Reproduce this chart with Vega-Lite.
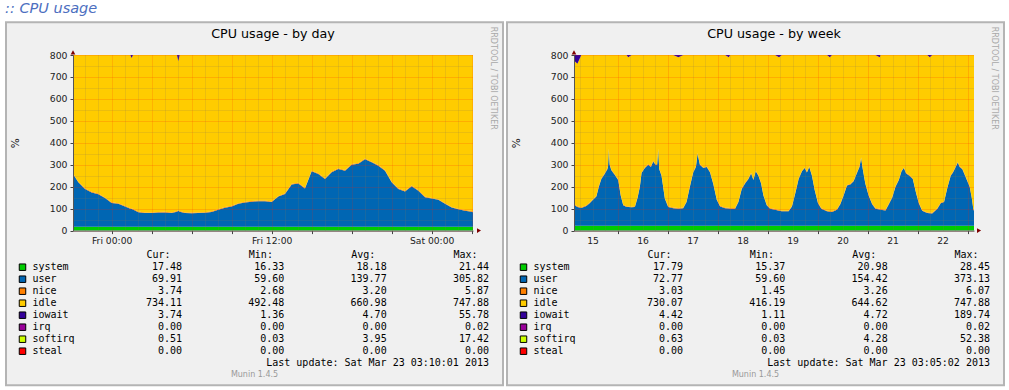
{
  "$schema": "https://vega.github.io/schema/vega-lite/v6.json",
  "background": "#ffffff",
  "padding": {"left": 4, "top": 0, "right": 0, "bottom": 0},
  "autosize": {"type": "pad"},
  "title": {"text": ":: CPU usage", "anchor": "start", "font": "DejaVu Sans", "fontSize": 14.5, "fontStyle": "italic", "fontWeight": "normal", "color": "#4d6fbf", "offset": 5},
  "datasets": {
    "day": [
      {"hour":165.1,"system":18,"user":240,"nice":3,"idle":539,"iowait":0},
      {"hour":165.5,"system":18,"user":202,"nice":3,"idle":577,"iowait":0},
      {"hour":166,"system":18,"user":172,"nice":3,"idle":607,"iowait":0},
      {"hour":166.5,"system":18,"user":156,"nice":3,"idle":623,"iowait":0},
      {"hour":167,"system":18,"user":148,"nice":3,"idle":631,"iowait":0},
      {"hour":167.5,"system":18,"user":130,"nice":3,"idle":649,"iowait":0},
      {"hour":168,"system":18,"user":108,"nice":3,"idle":671,"iowait":0},
      {"hour":168.5,"system":18,"user":104,"nice":3,"idle":675,"iowait":0},
      {"hour":169,"system":18,"user":92,"nice":3,"idle":687,"iowait":0},
      {"hour":169.4,"system":18,"user":82,"nice":3,"idle":697,"iowait":0},
      {"hour":169.5,"system":18,"user":80,"nice":3,"idle":685,"iowait":14},
      {"hour":169.6,"system":18,"user":78,"nice":3,"idle":701,"iowait":0},
      {"hour":170,"system":18,"user":66,"nice":3,"idle":713,"iowait":0},
      {"hour":170.5,"system":18,"user":62,"nice":3,"idle":717,"iowait":0},
      {"hour":171,"system":18,"user":62,"nice":3,"idle":717,"iowait":0},
      {"hour":171.5,"system":18,"user":64,"nice":3,"idle":715,"iowait":0},
      {"hour":172,"system":18,"user":65,"nice":3,"idle":714,"iowait":0},
      {"hour":172.5,"system":18,"user":62,"nice":3,"idle":717,"iowait":0},
      {"hour":172.9,"system":18,"user":68,"nice":3,"idle":711,"iowait":0},
      {"hour":173,"system":18,"user":72,"nice":3,"idle":679,"iowait":28},
      {"hour":173.1,"system":18,"user":68,"nice":3,"idle":711,"iowait":0},
      {"hour":173.5,"system":18,"user":62,"nice":3,"idle":717,"iowait":0},
      {"hour":174,"system":18,"user":61,"nice":3,"idle":718,"iowait":0},
      {"hour":174.5,"system":18,"user":62,"nice":3,"idle":717,"iowait":0},
      {"hour":175,"system":18,"user":63,"nice":3,"idle":716,"iowait":0},
      {"hour":175.5,"system":18,"user":67,"nice":3,"idle":712,"iowait":0},
      {"hour":176,"system":18,"user":77,"nice":3,"idle":702,"iowait":0},
      {"hour":176.5,"system":18,"user":86,"nice":3,"idle":693,"iowait":0},
      {"hour":177,"system":18,"user":92,"nice":3,"idle":687,"iowait":0},
      {"hour":177.5,"system":18,"user":104,"nice":3,"idle":675,"iowait":0},
      {"hour":178,"system":18,"user":110,"nice":3,"idle":669,"iowait":0},
      {"hour":178.5,"system":18,"user":114,"nice":3,"idle":665,"iowait":0},
      {"hour":179,"system":18,"user":116,"nice":3,"idle":663,"iowait":0},
      {"hour":179.5,"system":18,"user":116,"nice":3,"idle":663,"iowait":0},
      {"hour":180,"system":18,"user":112,"nice":3,"idle":667,"iowait":0},
      {"hour":180.5,"system":18,"user":137,"nice":3,"idle":642,"iowait":0},
      {"hour":181,"system":18,"user":149,"nice":3,"idle":630,"iowait":0},
      {"hour":181.5,"system":18,"user":192,"nice":3,"idle":587,"iowait":0},
      {"hour":182,"system":18,"user":197,"nice":3,"idle":582,"iowait":0},
      {"hour":182.5,"system":18,"user":174,"nice":3,"idle":605,"iowait":0},
      {"hour":183,"system":18,"user":252,"nice":3,"idle":527,"iowait":0},
      {"hour":183.5,"system":18,"user":240,"nice":3,"idle":539,"iowait":0},
      {"hour":184,"system":18,"user":217,"nice":3,"idle":562,"iowait":0},
      {"hour":184.5,"system":18,"user":248,"nice":3,"idle":531,"iowait":0},
      {"hour":185,"system":18,"user":263,"nice":3,"idle":516,"iowait":0},
      {"hour":185.5,"system":18,"user":255,"nice":3,"idle":524,"iowait":0},
      {"hour":186,"system":18,"user":282,"nice":3,"idle":497,"iowait":0},
      {"hour":186.5,"system":18,"user":287,"nice":3,"idle":492,"iowait":0},
      {"hour":187,"system":18,"user":307,"nice":3,"idle":472,"iowait":0},
      {"hour":187.5,"system":18,"user":293,"nice":3,"idle":486,"iowait":0},
      {"hour":188,"system":18,"user":278,"nice":3,"idle":501,"iowait":0},
      {"hour":188.5,"system":18,"user":255,"nice":3,"idle":524,"iowait":0},
      {"hour":189,"system":18,"user":202,"nice":3,"idle":577,"iowait":0},
      {"hour":189.5,"system":18,"user":172,"nice":3,"idle":607,"iowait":0},
      {"hour":190,"system":18,"user":160,"nice":3,"idle":619,"iowait":0},
      {"hour":190.5,"system":18,"user":184,"nice":3,"idle":595,"iowait":0},
      {"hour":191,"system":18,"user":164,"nice":3,"idle":615,"iowait":0},
      {"hour":191.5,"system":18,"user":134,"nice":3,"idle":645,"iowait":0},
      {"hour":192,"system":18,"user":128,"nice":3,"idle":651,"iowait":0},
      {"hour":192.5,"system":18,"user":122,"nice":3,"idle":657,"iowait":0},
      {"hour":193,"system":18,"user":104,"nice":3,"idle":675,"iowait":0},
      {"hour":193.5,"system":18,"user":87,"nice":3,"idle":692,"iowait":0},
      {"hour":194,"system":18,"user":79,"nice":3,"idle":700,"iowait":0},
      {"hour":194.5,"system":18,"user":73,"nice":3,"idle":706,"iowait":0},
      {"hour":195,"system":18,"user":68,"nice":3,"idle":711,"iowait":0},
      {"hour":195.1,"system":18,"user":66,"nice":3,"idle":713,"iowait":0}
    ],
    "week": [
      {"hour":3.08,"system":22,"user":96,"nice":3,"idle":654,"iowait":25},
      {"hour":4.7,"system":22,"user":86,"nice":3,"idle":649,"iowait":40},
      {"hour":6.6,"system":22,"user":81,"nice":3,"idle":694,"iowait":0},
      {"hour":9.0,"system":22,"user":90,"nice":3,"idle":685,"iowait":0},
      {"hour":10.6,"system":22,"user":103,"nice":3,"idle":672,"iowait":0},
      {"hour":12.2,"system":22,"user":118,"nice":3,"idle":657,"iowait":0},
      {"hour":13.8,"system":22,"user":133,"nice":3,"idle":642,"iowait":0},
      {"hour":15.0,"system":22,"user":178,"nice":3,"idle":597,"iowait":0},
      {"hour":16.2,"system":22,"user":213,"nice":3,"idle":562,"iowait":0},
      {"hour":17.8,"system":22,"user":236,"nice":3,"idle":539,"iowait":0},
      {"hour":19.1,"system":22,"user":258,"nice":3,"idle":517,"iowait":0},
      {"hour":19.4,"system":22,"user":268,"nice":3,"idle":507,"iowait":0},
      {"hour":19.8,"system":22,"user":348,"nice":3,"idle":427,"iowait":0},
      {"hour":20.2,"system":22,"user":278,"nice":3,"idle":497,"iowait":0},
      {"hour":21.0,"system":22,"user":253,"nice":3,"idle":522,"iowait":0},
      {"hour":22.6,"system":22,"user":233,"nice":3,"idle":542,"iowait":0},
      {"hour":24.3,"system":22,"user":208,"nice":3,"idle":567,"iowait":0},
      {"hour":25.5,"system":22,"user":138,"nice":3,"idle":637,"iowait":0},
      {"hour":26.7,"system":22,"user":93,"nice":3,"idle":682,"iowait":0},
      {"hour":28.3,"system":22,"user":86,"nice":3,"idle":689,"iowait":0},
      {"hour":29.1,"system":22,"user":85,"nice":3,"idle":680,"iowait":10},
      {"hour":30.7,"system":22,"user":84,"nice":3,"idle":691,"iowait":0},
      {"hour":32.3,"system":22,"user":86,"nice":3,"idle":689,"iowait":0},
      {"hour":33.6,"system":22,"user":128,"nice":3,"idle":647,"iowait":0},
      {"hour":34.7,"system":22,"user":178,"nice":3,"idle":597,"iowait":0},
      {"hour":35.5,"system":22,"user":240,"nice":3,"idle":535,"iowait":0},
      {"hour":37.1,"system":22,"user":263,"nice":3,"idle":512,"iowait":0},
      {"hour":38.7,"system":22,"user":278,"nice":3,"idle":497,"iowait":0},
      {"hour":40.0,"system":22,"user":268,"nice":3,"idle":507,"iowait":0},
      {"hour":41.1,"system":22,"user":293,"nice":3,"idle":482,"iowait":0},
      {"hour":42.2,"system":22,"user":278,"nice":3,"idle":497,"iowait":0},
      {"hour":43.0,"system":22,"user":278,"nice":3,"idle":497,"iowait":0},
      {"hour":43.5,"system":22,"user":348,"nice":3,"idle":427,"iowait":0},
      {"hour":44.0,"system":22,"user":258,"nice":3,"idle":517,"iowait":0},
      {"hour":45.1,"system":22,"user":228,"nice":3,"idle":547,"iowait":0},
      {"hour":46.7,"system":22,"user":123,"nice":3,"idle":652,"iowait":0},
      {"hour":48.3,"system":22,"user":86,"nice":3,"idle":689,"iowait":0},
      {"hour":50.7,"system":22,"user":80,"nice":3,"idle":695,"iowait":0},
      {"hour":53.2,"system":22,"user":78,"nice":3,"idle":687,"iowait":10},
      {"hour":55.5,"system":22,"user":80,"nice":3,"idle":695,"iowait":0},
      {"hour":57.1,"system":22,"user":108,"nice":3,"idle":667,"iowait":0},
      {"hour":58.7,"system":22,"user":178,"nice":3,"idle":597,"iowait":0},
      {"hour":60.3,"system":22,"user":243,"nice":3,"idle":532,"iowait":0},
      {"hour":61.6,"system":22,"user":268,"nice":3,"idle":507,"iowait":0},
      {"hour":62.4,"system":22,"user":328,"nice":3,"idle":447,"iowait":0},
      {"hour":63.5,"system":22,"user":278,"nice":3,"idle":497,"iowait":0},
      {"hour":65.2,"system":22,"user":263,"nice":3,"idle":512,"iowait":0},
      {"hour":66.8,"system":22,"user":268,"nice":3,"idle":507,"iowait":0},
      {"hour":68.4,"system":22,"user":243,"nice":3,"idle":532,"iowait":0},
      {"hour":70.0,"system":22,"user":188,"nice":3,"idle":587,"iowait":0},
      {"hour":71.6,"system":22,"user":118,"nice":3,"idle":657,"iowait":0},
      {"hour":73.2,"system":22,"user":88,"nice":3,"idle":687,"iowait":0},
      {"hour":75.6,"system":22,"user":80,"nice":3,"idle":695,"iowait":0},
      {"hour":77.4,"system":22,"user":79,"nice":3,"idle":686,"iowait":10},
      {"hour":78.0,"system":22,"user":78,"nice":3,"idle":697,"iowait":0},
      {"hour":80.4,"system":22,"user":78,"nice":3,"idle":697,"iowait":0},
      {"hour":82.0,"system":22,"user":108,"nice":3,"idle":667,"iowait":0},
      {"hour":83.6,"system":22,"user":168,"nice":3,"idle":607,"iowait":0},
      {"hour":85.2,"system":22,"user":193,"nice":3,"idle":582,"iowait":0},
      {"hour":86.8,"system":22,"user":213,"nice":3,"idle":562,"iowait":0},
      {"hour":88.1,"system":22,"user":238,"nice":3,"idle":537,"iowait":0},
      {"hour":89.2,"system":22,"user":208,"nice":3,"idle":567,"iowait":0},
      {"hour":90.3,"system":22,"user":248,"nice":3,"idle":527,"iowait":0},
      {"hour":91.6,"system":22,"user":228,"nice":3,"idle":547,"iowait":0},
      {"hour":92.9,"system":22,"user":193,"nice":3,"idle":582,"iowait":0},
      {"hour":94.0,"system":22,"user":138,"nice":3,"idle":637,"iowait":0},
      {"hour":95.6,"system":22,"user":93,"nice":3,"idle":682,"iowait":0},
      {"hour":97.2,"system":22,"user":78,"nice":3,"idle":697,"iowait":0},
      {"hour":99.6,"system":22,"user":73,"nice":3,"idle":702,"iowait":0},
      {"hour":101.5,"system":22,"user":69,"nice":3,"idle":696,"iowait":10},
      {"hour":102.8,"system":22,"user":66,"nice":3,"idle":709,"iowait":0},
      {"hour":106.1,"system":22,"user":66,"nice":3,"idle":709,"iowait":0},
      {"hour":107.7,"system":22,"user":88,"nice":3,"idle":687,"iowait":0},
      {"hour":109.3,"system":22,"user":148,"nice":3,"idle":627,"iowait":0},
      {"hour":110.9,"system":22,"user":213,"nice":3,"idle":562,"iowait":0},
      {"hour":112.5,"system":22,"user":248,"nice":3,"idle":527,"iowait":0},
      {"hour":113.8,"system":22,"user":263,"nice":3,"idle":512,"iowait":0},
      {"hour":114.9,"system":22,"user":243,"nice":3,"idle":532,"iowait":0},
      {"hour":116.0,"system":22,"user":268,"nice":3,"idle":507,"iowait":0},
      {"hour":117.3,"system":22,"user":228,"nice":3,"idle":547,"iowait":0},
      {"hour":118.6,"system":22,"user":163,"nice":3,"idle":612,"iowait":0},
      {"hour":120.2,"system":22,"user":103,"nice":3,"idle":672,"iowait":0},
      {"hour":121.8,"system":22,"user":78,"nice":3,"idle":697,"iowait":0},
      {"hour":124.5,"system":22,"user":66,"nice":3,"idle":709,"iowait":0},
      {"hour":125.9,"system":22,"user":64,"nice":3,"idle":701,"iowait":10},
      {"hour":126.9,"system":22,"user":63,"nice":3,"idle":712,"iowait":0},
      {"hour":129.3,"system":22,"user":73,"nice":3,"idle":702,"iowait":0},
      {"hour":130.9,"system":22,"user":98,"nice":3,"idle":677,"iowait":0},
      {"hour":132.5,"system":22,"user":138,"nice":3,"idle":637,"iowait":0},
      {"hour":134.1,"system":22,"user":183,"nice":3,"idle":592,"iowait":0},
      {"hour":135.7,"system":22,"user":188,"nice":3,"idle":587,"iowait":0},
      {"hour":137.3,"system":22,"user":203,"nice":3,"idle":572,"iowait":0},
      {"hour":139.0,"system":22,"user":243,"nice":3,"idle":532,"iowait":0},
      {"hour":140.1,"system":22,"user":268,"nice":3,"idle":507,"iowait":0},
      {"hour":140.9,"system":22,"user":308,"nice":3,"idle":467,"iowait":0},
      {"hour":141.7,"system":22,"user":258,"nice":3,"idle":517,"iowait":0},
      {"hour":142.9,"system":22,"user":193,"nice":3,"idle":582,"iowait":0},
      {"hour":144.5,"system":22,"user":138,"nice":3,"idle":637,"iowait":0},
      {"hour":146.2,"system":22,"user":98,"nice":3,"idle":677,"iowait":0},
      {"hour":147.8,"system":22,"user":78,"nice":3,"idle":697,"iowait":0},
      {"hour":149.8,"system":22,"user":74,"nice":3,"idle":691,"iowait":10},
      {"hour":150.2,"system":22,"user":73,"nice":3,"idle":702,"iowait":0},
      {"hour":152.6,"system":22,"user":70,"nice":3,"idle":705,"iowait":0},
      {"hour":154.2,"system":22,"user":98,"nice":3,"idle":677,"iowait":0},
      {"hour":155.8,"system":22,"user":128,"nice":3,"idle":647,"iowait":0},
      {"hour":157.4,"system":22,"user":178,"nice":3,"idle":597,"iowait":0},
      {"hour":159.0,"system":22,"user":208,"nice":3,"idle":567,"iowait":0},
      {"hour":160.3,"system":22,"user":248,"nice":3,"idle":527,"iowait":0},
      {"hour":161.4,"system":22,"user":263,"nice":3,"idle":512,"iowait":0},
      {"hour":162.5,"system":22,"user":238,"nice":3,"idle":537,"iowait":0},
      {"hour":164.1,"system":22,"user":228,"nice":3,"idle":547,"iowait":0},
      {"hour":165.7,"system":22,"user":213,"nice":3,"idle":562,"iowait":0},
      {"hour":167.3,"system":22,"user":148,"nice":3,"idle":627,"iowait":0},
      {"hour":168.6,"system":22,"user":103,"nice":3,"idle":672,"iowait":0},
      {"hour":170.2,"system":22,"user":68,"nice":3,"idle":707,"iowait":0},
      {"hour":172.6,"system":22,"user":58,"nice":3,"idle":717,"iowait":0},
      {"hour":173.9,"system":22,"user":57,"nice":3,"idle":708,"iowait":10},
      {"hour":175.0,"system":22,"user":56,"nice":3,"idle":719,"iowait":0},
      {"hour":177.5,"system":22,"user":78,"nice":3,"idle":697,"iowait":0},
      {"hour":179.1,"system":22,"user":103,"nice":3,"idle":672,"iowait":0},
      {"hour":180.7,"system":22,"user":108,"nice":3,"idle":667,"iowait":0},
      {"hour":182.3,"system":22,"user":173,"nice":3,"idle":602,"iowait":0},
      {"hour":183.9,"system":22,"user":228,"nice":3,"idle":547,"iowait":0},
      {"hour":185.0,"system":22,"user":243,"nice":3,"idle":532,"iowait":0},
      {"hour":186.3,"system":22,"user":268,"nice":3,"idle":507,"iowait":0},
      {"hour":187.3,"system":22,"user":288,"nice":3,"idle":487,"iowait":0},
      {"hour":188.2,"system":22,"user":268,"nice":3,"idle":507,"iowait":0},
      {"hour":189.5,"system":22,"user":258,"nice":3,"idle":517,"iowait":0},
      {"hour":190.8,"system":22,"user":228,"nice":3,"idle":547,"iowait":0},
      {"hour":191.9,"system":22,"user":203,"nice":3,"idle":572,"iowait":0},
      {"hour":193.0,"system":22,"user":178,"nice":3,"idle":597,"iowait":0},
      {"hour":194.0,"system":22,"user":128,"nice":3,"idle":647,"iowait":0},
      {"hour":194.8,"system":22,"user":73,"nice":3,"idle":702,"iowait":0},
      {"hour":195.08,"system":22,"user":68,"nice":3,"idle":707,"iowait":0}
    ],
    "legendDay": [
      {"series":"system","row":1,"Cur":17.48,"Min":16.33,"Avg":18.18,"Max":21.44},
      {"series":"user","row":2,"Cur":69.91,"Min":59.60,"Avg":139.77,"Max":305.82},
      {"series":"nice","row":3,"Cur":3.74,"Min":2.68,"Avg":3.20,"Max":5.87},
      {"series":"idle","row":4,"Cur":734.11,"Min":492.48,"Avg":660.98,"Max":747.88},
      {"series":"iowait","row":5,"Cur":3.74,"Min":1.36,"Avg":4.70,"Max":55.78},
      {"series":"irq","row":6,"Cur":0,"Min":0,"Avg":0,"Max":0.02},
      {"series":"softirq","row":7,"Cur":0.51,"Min":0.03,"Avg":3.95,"Max":17.42},
      {"series":"steal","row":8,"Cur":0,"Min":0,"Avg":0,"Max":0}
    ],
    "legendWeek": [
      {"series":"system","row":1,"Cur":17.79,"Min":15.37,"Avg":20.98,"Max":28.45},
      {"series":"user","row":2,"Cur":72.77,"Min":59.60,"Avg":154.42,"Max":373.13},
      {"series":"nice","row":3,"Cur":3.03,"Min":1.45,"Avg":3.26,"Max":6.07},
      {"series":"idle","row":4,"Cur":730.07,"Min":416.19,"Avg":644.62,"Max":747.88},
      {"series":"iowait","row":5,"Cur":4.42,"Min":1.11,"Avg":4.72,"Max":189.74},
      {"series":"irq","row":6,"Cur":0,"Min":0,"Avg":0,"Max":0.02},
      {"series":"softirq","row":7,"Cur":0.63,"Min":0.03,"Avg":4.28,"Max":52.38},
      {"series":"steal","row":8,"Cur":0,"Min":0,"Avg":0,"Max":0}
    ],
    "heads": [
      {"stat":"Cur","label":"Cur:"},
      {"stat":"Min","label":"Min:"},
      {"stat":"Avg","label":"Avg:"},
      {"stat":"Max","label":"Max:"}
    ]
  },
  "hconcat": [
    {
      "vconcat": [
        {
          "width": 400,
          "height": 175.6,
          "title": {"text": "CPU usage - by day", "frame": "group", "anchor": "middle", "offset": -19, "font": "DejaVu Sans", "fontSize": 12.7, "fontWeight": "normal", "color": "#000000"},
          "layer": [
            {
              "data": {"values": [{"label": "panel"}]},
              "mark": {"type": "rect", "fill": "#f0f0f0", "stroke": "#b4b4b4", "strokeWidth": 2},
              "encoding": {
                "x": {"datum": 160.075, "type": "quantitative", "scale": {"domain": [165.1, 195.1], "nice": false, "zero": false}, "axis": null},
                "x2": {"datum": 197.35},
                "y": {"datum": -704.8, "type": "quantitative", "scale": {"domain": [0, 800], "nice": false}, "axis": null},
                "y2": {"datum": 948.97}
              }
            },
            {
              "data": {"name": "day"},
              "transform": [
                {"fold": ["system", "user", "nice", "idle", "iowait"], "as": ["series", "value"]},
                {"lookup": "series", "from": {"data": {"name": "legendDay"}, "key": "series", "fields": ["row"]}}
              ],
              "mark": {"type": "area", "interpolate": "linear"},
              "encoding": {
                "x": {"field": "hour", "type": "quantitative",
                  "scale": {"domain": [165.1, 195.1], "nice": false, "zero": false},
                  "axis": {
                    "values": [166,167,168,169,170,171,172,173,174,175,176,177,178,179,180,181,182,183,184,185,186,187,188,189,190,191,192,193,194,195],
                    "labelExpr": "datum.value === 168 ? 'Fri 00:00' : datum.value === 180 ? 'Fri 12:00' : datum.value === 192 ? 'Sat 00:00' : ''",
                    "labelFont": "DejaVu Sans", "labelFontSize": 9.2, "labelColor": "#222222", "labelPadding": 2.5,
                    "labelOverlap": false, "labelFlush": false,
                    "tickSize": 3, "tickColor": "#444444",
                    "tickOpacity": {"condition": {"test": "datum.value % 3 === 0", "value": 1}, "value": 0},
                    "domainColor": "#555555",
                    "grid": true,
                    "gridColor": {"condition": {"test": "datum.value % 3 === 0", "value": "#ff2000"}, "value": "#8c7a50"},
                    "gridOpacity": {"condition": {"test": "datum.value % 3 === 0", "value": 0.3}, "value": 0.35},
                    "gridDash": [1, 1],
                    "title": null,
                    "zindex": 1
                  }
                },
                "y": {"field": "value", "type": "quantitative", "stack": "zero",
                  "scale": {"domain": [0, 800], "nice": false},
                  "axis": {
                    "values": [0,50,100,150,200,250,300,350,400,450,500,550,600,650,700,750,800],
                    "labelExpr": "datum.value % 100 === 0 ? datum.label : ''",
                    "labelFont": "DejaVu Sans", "labelFontSize": 9.3, "labelColor": "#222222", "labelPadding": 3,
                    "labelOverlap": false, "labelFlush": false,
                    "tickSize": 3, "tickColor": "#444444",
                    "tickOpacity": {"condition": {"test": "datum.value % 100 === 0", "value": 1}, "value": 0},
                    "domainColor": "#555555",
                    "grid": true,
                    "gridColor": {"condition": {"test": "datum.value % 100 === 0", "value": "#ff2000"}, "value": "#8c7a50"},
                    "gridOpacity": {"condition": {"test": "datum.value % 100 === 0", "value": 0.35}, "value": 0.35},
                    "gridDash": [1, 1],
                    "title": "%", "titleFont": "DejaVu Sans", "titleFontSize": 10.5, "titleFontWeight": "normal", "titleColor": "#222222",
                    "titleAngle": 270, "titleX": -58, "titleBaseline": "middle", "titleAlign": "center",
                    "zindex": 1
                  }
                },
                "color": {"field": "series", "type": "nominal", "legend": null,
                  "scale": {"domain": ["system","user","nice","idle","iowait","irq","softirq","steal"], "range": ["#00cc00","#0066b3","#ff8000","#ffcc00","#330099","#990099","#ccff00","#ff0000"]}},
                "order": {"field": "row", "type": "quantitative", "sort": "ascending"}
              }
            },
            {
              "data": {"values": [{"label": "RRDTOOL / TOBI OETIKER"}]},
              "mark": {"type": "text", "angle": 90, "font": "DejaVu Sans", "fontSize": 8, "color": "#a8a8a8", "align": "center", "baseline": "middle"},
              "encoding": {
                "x": {"datum": 196.6, "type": "quantitative", "scale": {"domain": [165.1, 195.1], "nice": false, "zero": false}, "axis": null},
                "y": {"datum": 694, "type": "quantitative", "scale": {"domain": [0, 800], "nice": false}, "axis": null},
                "text": {"field": "label", "type": "nominal"}
              }
            },
            {
              "data": {"values": [{"label": "y"}]},
              "mark": {"type": "point", "shape": "triangle-up", "filled": true, "color": "#7f0000", "size": 22, "opacity": 1},
              "encoding": {
                "x": {"datum": 165.1, "type": "quantitative", "scale": {"domain": [165.1, 195.1], "nice": false, "zero": false}, "axis": null},
                "y": {"datum": 812, "type": "quantitative", "scale": {"domain": [0, 800], "nice": false}, "axis": null}
              }
            },
            {
              "data": {"values": [{"label": "x"}]},
              "mark": {"type": "point", "shape": "triangle-right", "filled": true, "color": "#7f0000", "size": 22, "opacity": 1},
              "encoding": {
                "x": {"datum": 195.55, "type": "quantitative", "scale": {"domain": [165.1, 195.1], "nice": false, "zero": false}, "axis": null},
                "y": {"datum": 0, "type": "quantitative", "scale": {"domain": [0, 800], "nice": false}, "axis": null}
              }
            }
          ],
          "resolve": {"scale": {"x": "independent", "y": "independent"}}
        },
        {
          "width": 400,
          "height": 150,
          "layer": [
            {
              "layer": [
                {
                  "data": {"name": "legendDay"},
                  "transform": [{"fold": ["Cur", "Min", "Avg", "Max"], "as": ["stat", "val"]}],
                  "mark": {"type": "text", "align": "right", "baseline": "middle", "font": "DejaVu Sans Mono", "fontSize": 10, "color": "#000000"},
                  "encoding": {
                    "x": {"field": "stat", "type": "nominal", "scale": {"domain": ["Cur","Min","Avg","Max"], "range": [109, 416], "padding": 0}, "axis": null},
                    "y": {"field": "row", "type": "quantitative", "scale": {"domain": [0, 10], "range": [24.2, 144.2], "nice": false, "zero": false}, "axis": null},
                    "text": {"field": "val", "type": "quantitative", "format": ".2f"}
                  }
                },
                {
                  "data": {"name": "heads"},
                  "mark": {"type": "text", "align": "left", "baseline": "middle", "dx": -35.5, "font": "DejaVu Sans Mono", "fontSize": 10, "color": "#000000"},
                  "encoding": {
                    "x": {"field": "stat", "type": "nominal", "axis": null},
                    "y": {"datum": 0, "type": "quantitative", "axis": null},
                    "text": {"field": "label", "type": "nominal"}
                  }
                },
                {
                  "data": {"values": [{"label": "Last update: Sat Mar 23 03:10:01 2013"}]},
                  "mark": {"type": "text", "align": "right", "baseline": "middle", "font": "DejaVu Sans Mono", "fontSize": 10, "color": "#000000"},
                  "encoding": {
                    "x": {"datum": "Max", "type": "nominal", "axis": null},
                    "y": {"datum": 9, "type": "quantitative", "axis": null},
                    "text": {"field": "label", "type": "nominal"}
                  }
                }
              ]
            },
            {
              "layer": [
                {
                  "data": {"name": "legendDay"},
                  "mark": {"type": "point", "shape": "square", "filled": true, "size": 42, "stroke": "#000000", "strokeWidth": 1, "opacity": 1},
                  "encoding": {
                    "x": {"datum": "swatch", "type": "nominal", "scale": {"domain": ["swatch", "name"], "range": [-50.5, -40.5], "padding": 0}, "axis": null},
                    "y": {"field": "row", "type": "quantitative", "scale": {"domain": [0, 10], "range": [24.2, 144.2], "nice": false, "zero": false}, "axis": null},
                    "color": {"field": "series", "type": "nominal", "legend": null,
                      "scale": {"domain": ["system","user","nice","idle","iowait","irq","softirq","steal"], "range": ["#00cc00","#0066b3","#ff8000","#ffcc00","#330099","#990099","#ccff00","#ff0000"]}}
                  }
                },
                {
                  "data": {"name": "legendDay"},
                  "mark": {"type": "text", "align": "left", "baseline": "middle", "font": "DejaVu Sans Mono", "fontSize": 10, "color": "#000000"},
                  "encoding": {
                    "x": {"datum": "name", "type": "nominal", "axis": null},
                    "y": {"field": "row", "type": "quantitative", "axis": null},
                    "text": {"field": "series", "type": "nominal"}
                  }
                },
                {
                  "data": {"values": [{"label": "Munin 1.4.5"}]},
                  "mark": {"type": "text", "align": "center", "baseline": "middle", "dx": -18.5, "font": "DejaVu Sans", "fontSize": 8, "color": "#999999"},
                  "encoding": {
                    "y": {"datum": 10, "type": "quantitative", "axis": null},
                    "text": {"field": "label", "type": "nominal"}
                  }
                }
              ]
            }
          ],
          "resolve": {"scale": {"x": "independent", "y": "independent"}}
        }
      ],
      "spacing": 0,
      "bounds": "flush"
    },
    {
      "vconcat": [
        {
          "width": 400,
          "height": 175.6,
          "title": {"text": "CPU usage - by week", "frame": "group", "anchor": "middle", "offset": -19, "font": "DejaVu Sans", "fontSize": 12.7, "fontWeight": "normal", "color": "#000000"},
          "layer": [
            {
              "data": {"values": [{"label": "panel"}]},
              "mark": {"type": "rect", "fill": "#f0f0f0", "stroke": "#b4b4b4", "strokeWidth": 2},
              "encoding": {
                "x": {"datum": -29.08, "type": "quantitative", "scale": {"domain": [3.08, 195.08], "nice": false, "zero": false}, "axis": null},
                "x2": {"datum": 209.48},
                "y": {"datum": -704.8, "type": "quantitative", "scale": {"domain": [0, 800], "nice": false}, "axis": null},
                "y2": {"datum": 948.97}
              }
            },
            {
              "data": {"name": "week"},
              "transform": [
                {"fold": ["system", "user", "nice", "idle", "iowait"], "as": ["series", "value"]},
                {"lookup": "series", "from": {"data": {"name": "legendWeek"}, "key": "series", "fields": ["row"]}}
              ],
              "mark": {"type": "area", "interpolate": "linear"},
              "encoding": {
                "x": {"field": "hour", "type": "quantitative",
                  "scale": {"domain": [3.08, 195.08], "nice": false, "zero": false},
                  "axis": {
                    "values": [6,12,18,24,30,36,42,48,54,60,66,72,78,84,90,96,102,108,114,120,126,132,138,144,150,156,162,168,174,180,186,192],
                    "labelExpr": "datum.value % 24 === 12 ? '' + (15 + floor(datum.value / 24)) : ''",
                    "labelFont": "DejaVu Sans", "labelFontSize": 9.2, "labelColor": "#222222", "labelPadding": 2.5,
                    "labelOverlap": false, "labelFlush": false,
                    "tickSize": 3, "tickColor": "#444444",
                    "tickOpacity": {"condition": {"test": "datum.value % 24 === 0", "value": 1}, "value": 0},
                    "domainColor": "#555555",
                    "grid": true,
                    "gridColor": {"condition": {"test": "datum.value % 24 === 0", "value": "#ff2000"}, "value": "#8c7a50"},
                    "gridOpacity": {"condition": {"test": "datum.value % 24 === 0", "value": 0.35}, "value": 0.35},
                    "gridDash": [1, 1],
                    "title": null,
                    "zindex": 1
                  }
                },
                "y": {"field": "value", "type": "quantitative", "stack": "zero",
                  "scale": {"domain": [0, 800], "nice": false},
                  "axis": {
                    "values": [0,50,100,150,200,250,300,350,400,450,500,550,600,650,700,750,800],
                    "labelExpr": "datum.value % 100 === 0 ? datum.label : ''",
                    "labelFont": "DejaVu Sans", "labelFontSize": 9.3, "labelColor": "#222222", "labelPadding": 3,
                    "labelOverlap": false, "labelFlush": false,
                    "tickSize": 3, "tickColor": "#444444",
                    "tickOpacity": {"condition": {"test": "datum.value % 100 === 0", "value": 1}, "value": 0},
                    "domainColor": "#555555",
                    "grid": true,
                    "gridColor": {"condition": {"test": "datum.value % 100 === 0", "value": "#ff2000"}, "value": "#8c7a50"},
                    "gridOpacity": {"condition": {"test": "datum.value % 100 === 0", "value": 0.35}, "value": 0.35},
                    "gridDash": [1, 1],
                    "title": "%", "titleFont": "DejaVu Sans", "titleFontSize": 10.5, "titleFontWeight": "normal", "titleColor": "#222222",
                    "titleAngle": 270, "titleX": -58, "titleBaseline": "middle", "titleAlign": "center",
                    "zindex": 1
                  }
                },
                "color": {"field": "series", "type": "nominal", "legend": null,
                  "scale": {"domain": ["system","user","nice","idle","iowait","irq","softirq","steal"], "range": ["#00cc00","#0066b3","#ff8000","#ffcc00","#330099","#990099","#ccff00","#ff0000"]}},
                "order": {"field": "row", "type": "quantitative", "sort": "ascending"}
              }
            },
            {
              "data": {"values": [{"label": "RRDTOOL / TOBI OETIKER"}]},
              "mark": {"type": "text", "angle": 90, "font": "DejaVu Sans", "fontSize": 8, "color": "#a8a8a8", "align": "center", "baseline": "middle"},
              "encoding": {
                "x": {"datum": 204.68, "type": "quantitative", "scale": {"domain": [3.08, 195.08], "nice": false, "zero": false}, "axis": null},
                "y": {"datum": 694, "type": "quantitative", "scale": {"domain": [0, 800], "nice": false}, "axis": null},
                "text": {"field": "label", "type": "nominal"}
              }
            },
            {
              "data": {"values": [{"label": "y"}]},
              "mark": {"type": "point", "shape": "triangle-up", "filled": true, "color": "#7f0000", "size": 22, "opacity": 1},
              "encoding": {
                "x": {"datum": 3.08, "type": "quantitative", "scale": {"domain": [3.08, 195.08], "nice": false, "zero": false}, "axis": null},
                "y": {"datum": 812, "type": "quantitative", "scale": {"domain": [0, 800], "nice": false}, "axis": null}
              }
            },
            {
              "data": {"values": [{"label": "x"}]},
              "mark": {"type": "point", "shape": "triangle-right", "filled": true, "color": "#7f0000", "size": 22, "opacity": 1},
              "encoding": {
                "x": {"datum": 197.5, "type": "quantitative", "scale": {"domain": [3.08, 195.08], "nice": false, "zero": false}, "axis": null},
                "y": {"datum": 0, "type": "quantitative", "scale": {"domain": [0, 800], "nice": false}, "axis": null}
              }
            }
          ],
          "resolve": {"scale": {"x": "independent", "y": "independent"}}
        },
        {
          "width": 400,
          "height": 150,
          "layer": [
            {
              "layer": [
                {
                  "data": {"name": "legendWeek"},
                  "transform": [{"fold": ["Cur", "Min", "Avg", "Max"], "as": ["stat", "val"]}],
                  "mark": {"type": "text", "align": "right", "baseline": "middle", "font": "DejaVu Sans Mono", "fontSize": 10, "color": "#000000"},
                  "encoding": {
                    "x": {"field": "stat", "type": "nominal", "scale": {"domain": ["Cur","Min","Avg","Max"], "range": [109, 416], "padding": 0}, "axis": null},
                    "y": {"field": "row", "type": "quantitative", "scale": {"domain": [0, 10], "range": [24.2, 144.2], "nice": false, "zero": false}, "axis": null},
                    "text": {"field": "val", "type": "quantitative", "format": ".2f"}
                  }
                },
                {
                  "data": {"name": "heads"},
                  "mark": {"type": "text", "align": "left", "baseline": "middle", "dx": -35.5, "font": "DejaVu Sans Mono", "fontSize": 10, "color": "#000000"},
                  "encoding": {
                    "x": {"field": "stat", "type": "nominal", "axis": null},
                    "y": {"datum": 0, "type": "quantitative", "axis": null},
                    "text": {"field": "label", "type": "nominal"}
                  }
                },
                {
                  "data": {"values": [{"label": "Last update: Sat Mar 23 03:05:02 2013"}]},
                  "mark": {"type": "text", "align": "right", "baseline": "middle", "font": "DejaVu Sans Mono", "fontSize": 10, "color": "#000000"},
                  "encoding": {
                    "x": {"datum": "Max", "type": "nominal", "axis": null},
                    "y": {"datum": 9, "type": "quantitative", "axis": null},
                    "text": {"field": "label", "type": "nominal"}
                  }
                }
              ]
            },
            {
              "layer": [
                {
                  "data": {"name": "legendWeek"},
                  "mark": {"type": "point", "shape": "square", "filled": true, "size": 42, "stroke": "#000000", "strokeWidth": 1, "opacity": 1},
                  "encoding": {
                    "x": {"datum": "swatch", "type": "nominal", "scale": {"domain": ["swatch", "name"], "range": [-50.5, -40.5], "padding": 0}, "axis": null},
                    "y": {"field": "row", "type": "quantitative", "scale": {"domain": [0, 10], "range": [24.2, 144.2], "nice": false, "zero": false}, "axis": null},
                    "color": {"field": "series", "type": "nominal", "legend": null,
                      "scale": {"domain": ["system","user","nice","idle","iowait","irq","softirq","steal"], "range": ["#00cc00","#0066b3","#ff8000","#ffcc00","#330099","#990099","#ccff00","#ff0000"]}}
                  }
                },
                {
                  "data": {"name": "legendWeek"},
                  "mark": {"type": "text", "align": "left", "baseline": "middle", "font": "DejaVu Sans Mono", "fontSize": 10, "color": "#000000"},
                  "encoding": {
                    "x": {"datum": "name", "type": "nominal", "axis": null},
                    "y": {"field": "row", "type": "quantitative", "axis": null},
                    "text": {"field": "series", "type": "nominal"}
                  }
                },
                {
                  "data": {"values": [{"label": "Munin 1.4.5"}]},
                  "mark": {"type": "text", "align": "center", "baseline": "middle", "dx": -18.5, "font": "DejaVu Sans", "fontSize": 8, "color": "#999999"},
                  "encoding": {
                    "y": {"datum": 10, "type": "quantitative", "axis": null},
                    "text": {"field": "label", "type": "nominal"}
                  }
                }
              ]
            }
          ],
          "resolve": {"scale": {"x": "independent", "y": "independent"}}
        }
      ],
      "spacing": 0,
      "bounds": "flush"
    }
  ],
  "spacing": 2,
  "bounds": "full",
  "config": {
    "view": {"stroke": null, "fill": null},
    "font": "DejaVu Sans"
  }
}
